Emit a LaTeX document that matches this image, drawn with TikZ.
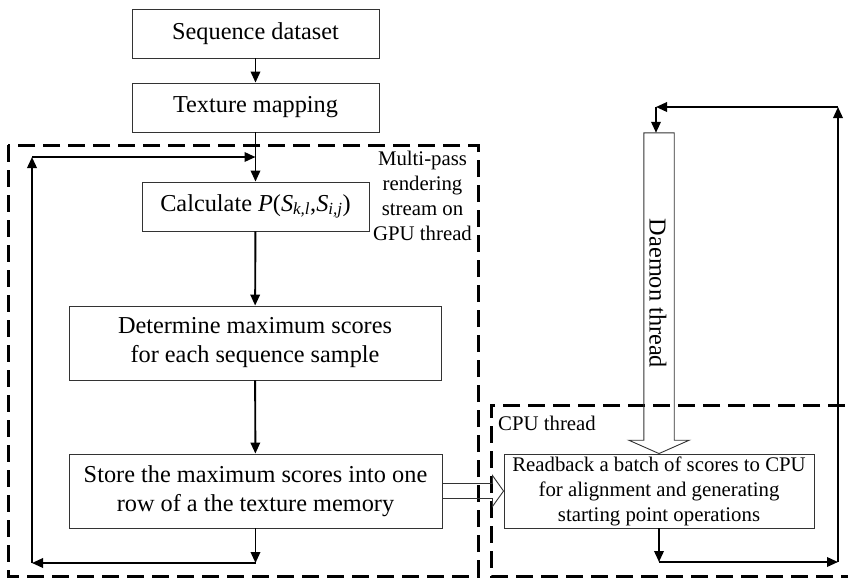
\documentclass[tikz,border=0pt]{standalone}
\usepackage{fontspec}
\setmainfont{Liberation Serif}
\usepackage{graphicx}
\usetikzlibrary{arrows.meta,calc}

\begin{document}
\begin{tikzpicture}[x=1pt,y=-1pt,
  box/.style={draw=black!80,line width=0.9pt,inner sep=0pt,align=center,
    font=\fontsize{24.3}{29}\selectfont},
  small/.style={font=\fontsize{20.8}{25}\selectfont},
  link/.style={line width=1.9pt,-{Triangle[length=11pt,width=9.5pt]}},
  frame/.style={line width=3pt,dash pattern=on 17pt off 8pt},
  hollow/.style={draw=black!80,line width=0.9pt}]
\useasboundingbox (0,0) rectangle (848,579);
\clip (0,0) rectangle (848,579);

% dashed thread regions
\draw[frame] (8,145) rectangle (478,576);
\draw[frame] (870,405) -- (491,405) -- (491,576) -- (870,576);

% process boxes
\node[box,minimum width=247pt,minimum height=49pt] (seq) at (255.5,33.5) {Sequence dataset};
\node[box,minimum width=247pt,minimum height=49pt] (tex) at (255.5,107.5) {Texture mapping};
\node[box,minimum width=227pt,minimum height=49pt] (calc) at (255.5,206.5)
  {Calculate \textit{P}(\textit{S}\textsubscript{\textit{k,l}},\textit{S}\textsubscript{\textit{i,j}})};
\node[box,minimum width=372pt,minimum height=74pt] (det) at (255,343)
  {Determine maximum scores\\for each sequence sample};
\node[box,minimum width=373pt,minimum height=74pt] (store) at (255.5,491)
  {Store the maximum scores into one\\row of a the texture memory};
\node[box,small,minimum width=310pt,minimum height=74pt] (read) at (659,491)
  {Readback a batch of scores to CPU\\for alignment and generating\\starting point operations};

% daemon thread: hollow arrow into the readback box
\node[draw=none,inner sep=0pt,minimum width=30pt,minimum height=307pt] (daemon) at (659,286.5) {};
\node[inner sep=0pt,font=\fontsize{24.3}{29}\selectfont] (daemontxt) at (658,293.5)
  {\rotatebox{-90}{Daemon thread}};
\draw[hollow] (daemon.south west) -- (daemon.north west) -- (daemon.north east)
  -- (daemon.south east) -- ++(15,0) -- (read.north)
  -- ($(daemon.south west)+(-15,0)$) -- cycle;

% hollow arrow from the GPU side to the CPU side
\draw[hollow] ($(store.east)+(0,-7.5)$) -- ++(50,0) -- ++(0,-8) -- (read.west)
  -- ($(store.east)+(50,15.5)$) -- ++(0,-8) -- ($(store.east)+(0,7.5)$);

% region labels
\node[small,align=center,inner sep=0pt] (gpulbl) at (422.5,196)
  {Multi-pass\\rendering\\stream on\\GPU thread};
\node[small,anchor=west,inner sep=0pt] (cpulbl) at (498,423) {CPU thread};

% main flow
\draw[link] (seq) -- (tex);
\draw[link] (tex) -- (calc);
\draw[link] (calc) -- (det);
\draw[link] (det) -- (store);

% GPU loop
\coordinate (gb) at (255.5,563);
\coordinate (gl) at (32,563);
\coordinate (gt) at (32,157);
\coordinate (gr) at (255.5,157);
\draw[link] (store) -- (gb);
\draw[link] (gb) -- (gl);
\draw[link] (gl) -- (gt);
\draw[link] (gt) -- (gr);

% daemon loop
\coordinate (db) at (659,562);
\coordinate (dr) at (838,562);
\coordinate (dt) at (838,107);
\coordinate (dl) at (656,107);
\draw[link] (read) -- (db);
\draw[link] (db) -- (dr);
\draw[link] (dr) -- (dt);
\draw[link] (dt) -- (dl);
\draw[link] (dl) -- (dl |- daemon.north);
\end{tikzpicture}
\end{document}
